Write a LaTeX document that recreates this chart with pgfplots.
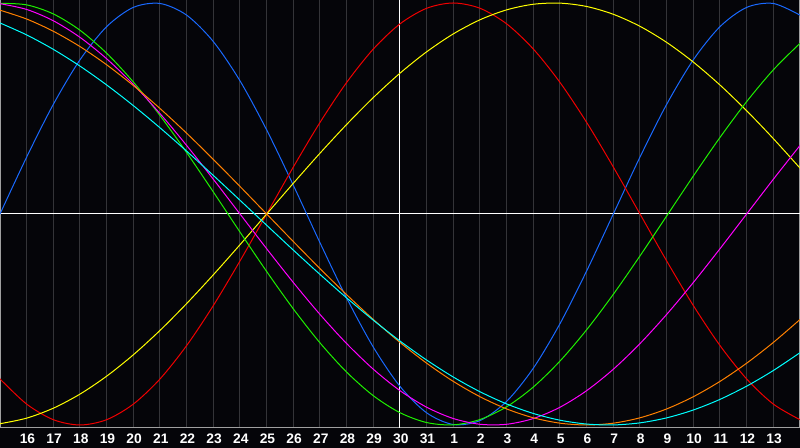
\documentclass[border=0pt]{standalone}
\usepackage{fontspec}
\setmainfont{Liberation Sans}
\usepackage{pgfplots}
\usepackage{pgfplotstable}
\pgfplotsset{compat=1.18}
\definecolor{bgc}{RGB}{5,5,9}
\definecolor{gridc}{RGB}{52,52,56}
\definecolor{framec}{RGB}{160,160,160}
\definecolor{cblue}{RGB}{25,105,255}
\definecolor{cred}{RGB}{240,0,0}
\definecolor{cyellow}{RGB}{255,255,0}
\definecolor{cgreen}{RGB}{30,240,0}
\definecolor{cmagenta}{RGB}{255,0,255}
\definecolor{corange}{RGB}{255,128,0}
\definecolor{ccyan}{RGB}{0,255,255}
\pgfplotstableread{
t B R Y G M O C
0 0 -0.7818 -0.9940 0.9984 0.9966 0.9659 0.9053
1 0.2698 -0.9010 -0.9675 0.9911 0.9694 0.9239 0.8487
2 0.5196 -0.9749 -0.9204 0.9481 0.9158 0.8660 0.7802
3 0.7308 -1 -0.8536 0.8708 0.8372 0.7934 0.7008
4 0.8879 -0.9749 -0.7686 0.7619 0.7357 0.7071 0.6115
5 0.9791 -0.9010 -0.6673 0.6256 0.6142 0.6088 0.5136
6 0.9977 -0.7818 -0.5518 0.4667 0.4760 0.5 0.4085
7 0.9423 -0.6235 -0.4244 0.2909 0.3247 0.3827 0.2977
8 0.8170 -0.4339 -0.2881 0.1045 0.1646 0.2588 0.1827
9 0.6311 -0.2225 -0.1456 -0.0856 0 0.1305 0.0651
10 0.3984 0 0 -0.2726 -0.1646 0 -0.0533
11 0.1362 0.2225 0.1456 -0.4497 -0.3247 -0.1305 -0.1711
12 -0.1362 0.4339 0.2881 -0.6107 -0.4760 -0.2588 -0.2864
13 -0.3984 0.6235 0.4244 -0.7495 -0.6142 -0.3827 -0.3977
14 -0.6311 0.7818 0.5518 -0.8613 -0.7357 -0.5 -0.5034
15 -0.8170 0.9010 0.6673 -0.9418 -0.8372 -0.6088 -0.6021
16 -0.9423 0.9749 0.7686 -0.9884 -0.9158 -0.7071 -0.6923
17 -0.9977 1 0.8536 -0.9993 -0.9694 -0.7934 -0.7728
18 -0.9791 0.9749 0.9204 -0.9740 -0.9966 -0.8660 -0.8424
19 -0.8879 0.9010 0.9675 -0.9135 -0.9966 -0.9239 -0.9002
20 -0.7308 0.7818 0.9940 -0.8201 -0.9694 -0.9659 -0.9454
21 -0.5196 0.6235 0.9993 -0.6969 -0.9158 -0.9914 -0.9773
22 -0.2698 0.4339 0.9834 -0.5486 -0.8372 -1 -0.9955
23 0 0.2225 0.9464 -0.3805 -0.7357 -0.9914 -0.9997
24 0.2698 0 0.8894 -0.1986 -0.6142 -0.9659 -0.9899
25 0.5196 -0.2225 0.8133 -0.0095 -0.4760 -0.9239 -0.9662
26 0.7308 -0.4339 0.7199 0.1799 -0.3247 -0.8660 -0.9289
27 0.8879 -0.6235 0.6112 0.3628 -0.1646 -0.7934 -0.8786
28 0.9791 -0.7818 0.4894 0.5326 0 -0.7071 -0.8159
29 0.9977 -0.9010 0.3573 0.6832 0.1646 -0.6088 -0.7418
30 0.9423 -0.9749 0.2174 0.8090 0.3247 -0.5 -0.6573
}\bio
\begin{document}
\begin{tikzpicture}
\fill[bgc] (0,-10pt) rectangle (400pt,214pt);
\begin{axis}[
  at={(0,0)}, anchor=south west,
  scale only axis, width=400pt, height=214pt,
  xmin=0, xmax=30, ymin=-1.0142, ymax=1.0142,
  axis background/.style={fill=bgc},
  axis line style={framec, line width=0.5pt},
  major tick length=0pt,
  xtick={1,2,3,4,5,6,7,8,9,10,11,12,13,14,16,17,18,19,20,21,22,23,24,25,26,27,28,29},
  xticklabels={16,17,18,19,20,21,22,23,24,25,26,27,28,29,31,1,2,3,4,5,6,7,8,9,10,11,12,13},
  ytick=\empty,
  xmajorgrids,
  major grid style={gridc, line width=0.5pt},
  extra x ticks={15},
  extra x tick labels={30},
  extra x tick style={major grid style={white, line width=0.5pt}},
  extra y ticks={0},
  extra y tick labels={},
  extra y tick style={grid=major, major grid style={white, line width=0.5pt}},
  /pgf/number format/assume math mode=true,
  xticklabel style={font=\fontsize{6.9}{8}\selectfont\bfseries, text=white, anchor=base, yshift=-7.9pt, xshift=0.4pt},
  every axis plot/.append style={line width=0.5pt, smooth, no marks},
]
\addplot[cblue] table[x=t, y=B] {\bio};
\addplot[cred] table[x=t, y=R] {\bio};
\addplot[cyellow] table[x=t, y=Y] {\bio};
\addplot[cgreen] table[x=t, y=G] {\bio};
\addplot[cmagenta] table[x=t, y=M] {\bio};
\addplot[corange] table[x=t, y=O] {\bio};
\addplot[ccyan] table[x=t, y=C] {\bio};
\end{axis}
\pgfresetboundingbox
\path[use as bounding box] (0,-10pt) rectangle (400pt,214pt);
\end{tikzpicture}
\end{document}
